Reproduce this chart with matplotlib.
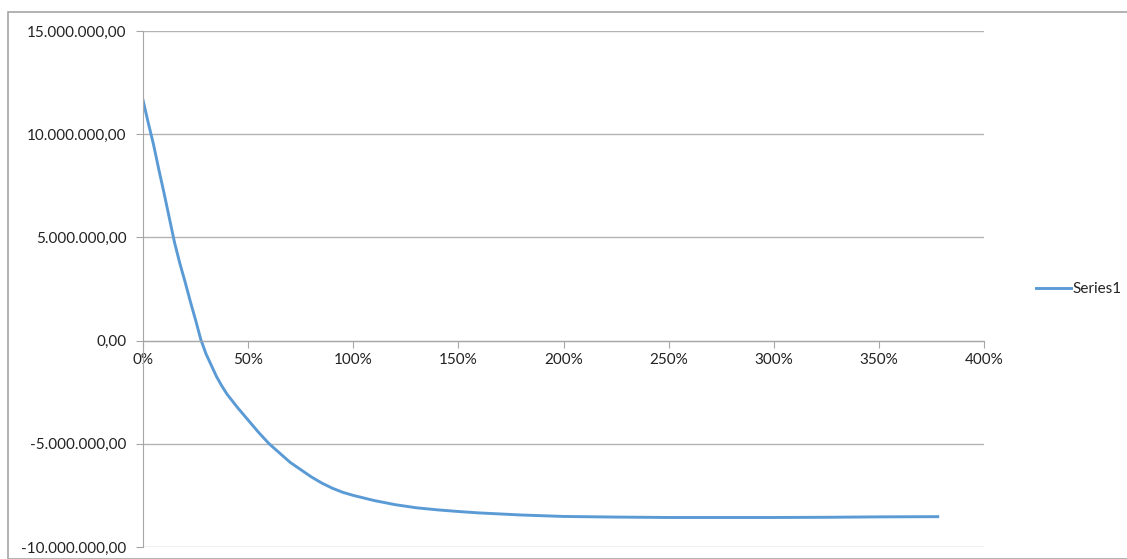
import matplotlib
matplotlib.use("Agg")
import matplotlib.pyplot as plt
from matplotlib.patches import Rectangle
from matplotlib.ticker import PercentFormatter, FuncFormatter

plt.rcParams['font.family'] = ['Lato', 'DejaVu Sans']

# discount rate (fraction) vs value
rate = [0.000, 0.025, 0.050, 0.075, 0.100, 0.125, 0.150, 0.175, 0.200, 0.225,
        0.250, 0.275, 0.300, 0.325, 0.350, 0.375, 0.400, 0.450, 0.500, 0.550,
        0.600, 0.650, 0.700, 0.750, 0.800, 0.850, 0.900, 0.950, 1.000, 1.100,
        1.200, 1.300, 1.400, 1.500, 1.600, 1.800, 2.000, 2.250, 2.500, 2.750,
        3.000, 3.250, 3.500, 3.780]
value = [11650000, 10550000, 9500000, 8300000, 7150000, 5950000, 4750000,
         3750000, 2850000, 1900000, 1000000, 50000, -650000, -1200000,
         -1750000, -2200000, -2600000, -3250000, -3850000, -4450000,
         -5000000, -5450000, -5900000, -6250000, -6600000, -6900000,
         -7150000, -7350000, -7500000, -7750000, -7950000, -8100000,
         -8200000, -8280000, -8350000, -8450000, -8520000, -8550000,
         -8570000, -8570000, -8570000, -8560000, -8540000, -8530000]
series_name = 'Series1'

W, H = 1127, 559
fig = plt.figure(figsize=(W / 100, H / 100), dpi=100)

# chart area border (Excel style)
fig.patches.append(Rectangle((8 / W, 0), 1.2, 1 - 12 / H, transform=fig.transFigure,
                             fill=False, edgecolor='#a6a6a6', linewidth=1.2))

ax = fig.add_axes([143 / W, (H - 547) / H, (984 - 143) / W, (547 - 31) / H])
ax.plot(rate, value, color='#5b9bd5', linewidth=2.1, label=series_name,
        solid_joinstyle='round')

ax.set_xlim(0, 4)
ax.set_ylim(-10000000, 15000000)
ax.set_xticks([i * 0.5 for i in range(9)])
ax.set_yticks(range(-10000000, 15000001, 5000000))
ax.xaxis.set_major_formatter(PercentFormatter(xmax=1, decimals=0))


def fmt(v, pos):
    s = f"{v:,.2f}"
    return s.replace(',', 'X').replace('.', ',').replace('X', '.')


ax.yaxis.set_major_formatter(FuncFormatter(fmt))

ax.grid(axis='y', color='#b3b3b3', linewidth=1.0)
ax.set_axisbelow(True)
for s in ['top', 'right']:
    ax.spines[s].set_visible(False)
ax.spines['left'].set_color('#a6a6a6')
ax.spines['bottom'].set_color('#a6a6a6')
ax.spines['bottom'].set_position(('data', 0))
ax.tick_params(axis='y', length=5, color='#a6a6a6', pad=7, labelsize=11, labelcolor='#222222')
ax.tick_params(axis='x', length=5, color='#a6a6a6', pad=4, labelsize=11, labelcolor='#222222')

leg = ax.legend(loc='center left', frameon=False, handlelength=2.3,
                handletextpad=0.1, fontsize=11, labelcolor='#222222')
leg.set_bbox_to_anchor((1022 / W, (H - 289) / H), transform=fig.transFigure)

fig.savefig('out.png', dpi=100)
